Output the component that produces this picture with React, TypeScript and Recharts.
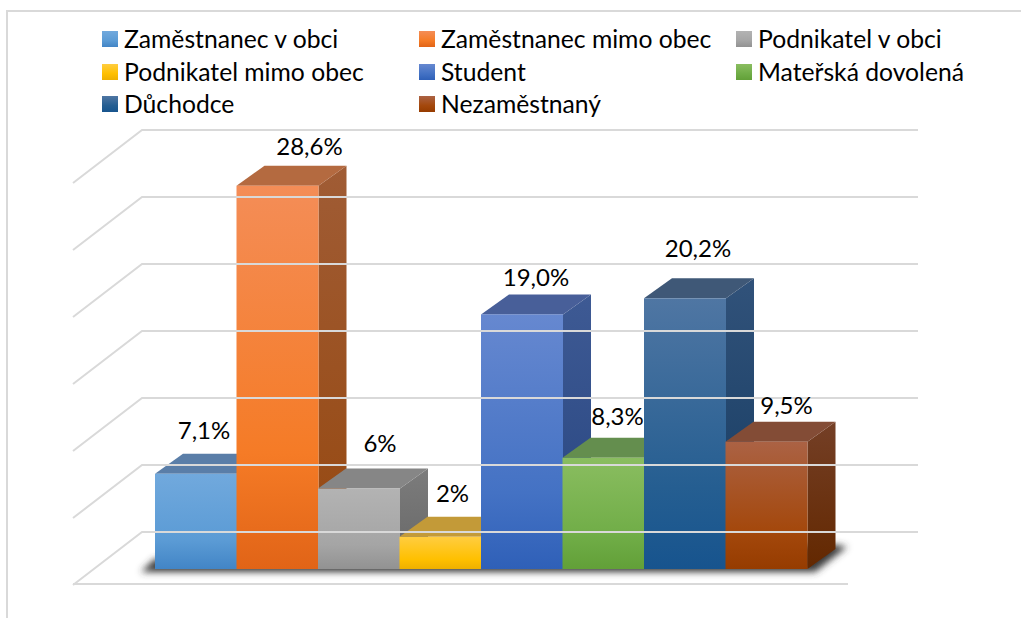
import { Bar, BarChart, LabelList, Legend, ReferenceArea, ReferenceLine, XAxis, YAxis } from "recharts";

// Values. The 2% bar is drawn taller than its label says.
const categories = [
  "Zaměstnanec v obci",
  "Zaměstnanec mimo obec",
  "Podnikatel v obci",
  "Podnikatel mimo obec",
  "Student",
  "Mateřská dovolená",
  "Důchodce",
  "Nezaměstnaný",
];
const barValues = [7.1, 28.6, 6, 2.4, 19, 8.3, 20.2, 9.5];
const valueLabels = ["7,1%", "28,6%", "6%", "2%", "19,0%", "8,3%", "20,2%", "9,5%"];
const wallTicks = [0, 5, 10, 15, 20, 25, 30];

// front: top, middle, bottom; side: top, bottom; then top face
const frontColors = [
  ["#71a9dd", "#5b9bd5", "#4285c6"],
  ["#f48d57", "#f57b26", "#e16417"],
  ["#b3b3b3", "#a5a5a5", "#929292"],
  ["#ffcd40", "#ffc000", "#eeb000"],
  ["#6688d0", "#4472c4", "#2f60b8"],
  ["#8abd60", "#70ad47", "#62a038"],
  ["#4f76a3", "#255e91", "#17548e"],
  ["#ab6244", "#a4480c", "#963c00"],
];
const sideColors = [
  ["#4f7ba8", "#2f659c"],
  ["#a05c35", "#96480f"],
  ["#7c7c7c", "#666666"],
  ["#b58e20", "#a88500"],
  ["#3e5a94", "#26447f"],
  ["#5c8443", "#4b7a2c"],
  ["#31527a", "#143a60"],
  ["#743f26", "#632800"],
];
const topColors = ["#5a7ea8", "#b46a40", "#868686", "#c39a38", "#485f99", "#648e4e", "#3f5877", "#834c36"];
const labelOffsets = [
  [8, -44],
  [32, -40],
  [21, -46],
  [12, -44],
  [14, -38],
  [14, -42],
  [13, -51],
  [20, -37],
];

const chartData = categories.map((name, i) => ({ name, value: barValues[i], label: valueLabels[i] }));

const DEPTH_X = 28;
const DEPTH_Y = 20;
const PX_PER_UNIT = 13.4;
const LINE = "#d9d9d9";
const Y_MIN = -1.12;
const Y_MAX = 32.76;
// wall sits behind the bars, so its lines are shifted up in value units
const wallShift = 37 / PX_PER_UNIT;

const Box3D = (props: any) => {
  const { x, y, width, height, index } = props;
  const r = x + width;
  const b = y + height;
  return (
    <g>
      <polygon
        points={`${r},${y} ${r + DEPTH_X},${y - DEPTH_Y} ${r + DEPTH_X},${b - DEPTH_Y} ${r},${b}`}
        fill={`url(#side${index})`}
      />
      <polygon
        points={`${x},${y} ${x + DEPTH_X},${y - DEPTH_Y} ${r + DEPTH_X},${y - DEPTH_Y} ${r},${y}`}
        fill={topColors[index]}
      />
      <rect x={x} y={y} width={width} height={height} fill={`url(#front${index})`} />
    </g>
  );
};

const BarLabel = (props: any) => {
  const { x, y, width, index, value } = props;
  const [dx, dy] = labelOffsets[index];
  return (
    <text
      x={x + width / 2 + dx}
      y={y + dy}
      textAnchor="middle"
      dominantBaseline="central"
      fontFamily="Lato, sans-serif"
      fontSize={24}
      fill="#000"
    >
      {value}
    </text>
  );
};

// side wall diagonal plus the back wall line
const WallLine = (props: any) => {
  const y = props.y1;
  return <polyline points={`73,${y + 53} 142,${y} 918,${y}`} fill="none" stroke={LINE} strokeWidth={2} />;
};

const FloorLine = (props: any) => {
  const y = props.y1;
  return <line x1={73} y1={y} x2={848} y2={y} stroke={LINE} strokeWidth={2} />;
};

const FloorShadow = (props: any) => {
  const { x, y, width, height } = props;
  const r = x + width;
  const b = y + height;
  return (
    <polygon
      points={`${x - 14},${b - 1} ${x},${y + 18} ${r + 28},${y + 4} ${r + 40},${y + 6} ${r + 8},${b - 1}`}
      fill="#3a3a3a"
      filter="url(#floorBlur)"
    />
  );
};

const legendCols = [102, 419, 736];
const legendRows = [31, 63.5, 96];

const GridLegend = () => (
  <div style={{ position: "relative", width: 1021, height: 0 }}>
    {categories.map((name, i) => {
      const left = legendCols[i % 3];
      const top = legendRows[Math.floor(i / 3)];
      return (
        <div key={name}>
          <div
            style={{
              position: "absolute",
              left,
              top,
              width: 16,
              height: 16,
              background: `linear-gradient(${frontColors[i][0]}, ${frontColors[i][1]} 60%, ${frontColors[i][2]})`,
            }}
          />
          <div
            style={{
              position: "absolute",
              left: left + 22,
              top: top - 8,
              lineHeight: "32px",
              fontFamily: "Lato, sans-serif",
              fontSize: 24.7,
              color: "#000",
              whiteSpace: "nowrap",
            }}
          >
            {name}
          </div>
        </div>
      );
    })}
  </div>
);

export default function App() {
  return (
    <div style={{ position: "absolute", left: 0, top: 0, width: 1021, height: 618, overflow: "hidden", background: "#fff" }}>
      <div
        style={{
          position: "absolute",
          left: 6,
          top: 10,
          right: 0,
          bottom: 0,
          borderTop: `2px solid ${LINE}`,
          borderLeft: `2px solid ${LINE}`,
        }}
      />
      <BarChart
        width={1021}
        height={618}
        data={chartData}
        barCategoryGap={0}
        margin={{ top: 130, right: 214, bottom: 34, left: 155 }}
        style={{ position: "absolute", left: 0, top: 0 }}
      >
        <defs>
          {frontColors.map((c, i) => (
            <linearGradient key={i} id={`front${i}`} x1="0" y1="0" x2="0" y2="1">
              <stop offset="0" stopColor={c[0]} />
              <stop offset="0.7" stopColor={c[1]} />
              <stop offset="1" stopColor={c[2]} />
            </linearGradient>
          ))}
          {sideColors.map((c, i) => (
            <linearGradient key={i} id={`side${i}`} x1="0" y1="0" x2="0" y2="1">
              <stop offset="0" stopColor={c[0]} />
              <stop offset="1" stopColor={c[1]} />
            </linearGradient>
          ))}
          <filter id="floorBlur" x="-10%" y="-100%" width="120%" height="300%">
            <feGaussianBlur stdDeviation="3.5" />
          </filter>
        </defs>
        <XAxis dataKey="name" type="category" hide />
        <YAxis domain={[Y_MIN, Y_MAX]} allowDataOverflow hide />

        {wallTicks.map((t) => (
          <ReferenceLine key={t} y={t + wallShift} ifOverflow="visible" shape={WallLine} />
        ))}
        <ReferenceLine y={Y_MIN} ifOverflow="visible" shape={FloorLine} />
        <ReferenceArea y1={-0.3} y2={2.1} ifOverflow="visible" shape={FloorShadow} />

        <Bar dataKey="value" shape={Box3D} isAnimationActive={false}>
          <LabelList dataKey="label" content={BarLabel} />
        </Bar>
        <Legend content={GridLegend} wrapperStyle={{ position: "absolute", left: 0, top: 0, width: 1021, height: 0 }} />
      </BarChart>
    </div>
  );
}
